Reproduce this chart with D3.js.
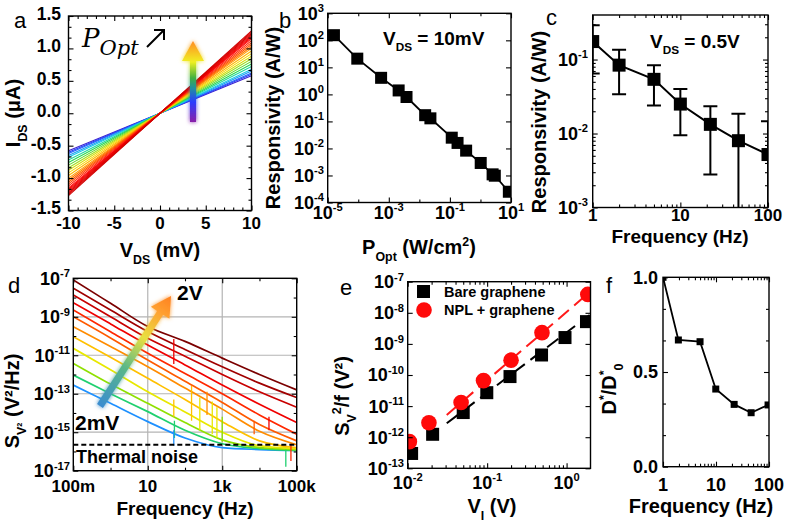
<!DOCTYPE html>
<html><head><meta charset="utf-8">
<script src="https://cdn.jsdelivr.net/npm/d3@7/dist/d3.min.js"></script>
<style>html,body{margin:0;padding:0;background:#fff;}svg{display:block;}</style>
</head><body>
<svg id="fig" width="787" height="526" xmlns="http://www.w3.org/2000/svg"></svg>
<script>
// ================= DATA =================
// (a) I-V curves: current at V_DS = +10 mV for each illumination power (lines through origin)
const aVds = [-10, 10];
const aIdsAt10mV = [0.58,0.60,0.62,0.65,0.68,0.72,0.76,0.80,0.84,0.88,0.92,0.96,1.00,1.03,1.06,1.09,1.12,1.15,1.17,1.19,1.21,1.23,1.25,1.27];
const aColors = ["#3a1fd0","#2c3cf0","#2060ff","#1a9af5","#18c8e8","#20d8a0","#28d850","#5ad828","#a0e020","#d8e010","#f8d800","#ffb800","#ff9a00","#ff7a00","#ff5a00","#ff3c00","#ff2000","#ff1010","#f80000","#f00000","#e80000","#e00000","#d80000","#d00000"];
const aXTicks = [-10,-5,0,5,10];
const aXLabels = ["-10","-5","0","5","10"];
const aYTicks = [-1.5,-1,-0.5,0,0.5,1,1.5];
const aYLabels = ["-1.5","-1.0","-0.5","0.0","0.5","1.0","1.5"];

// (b) responsivity vs optical power
const bPopt = [1.6e-5, 9.3e-5, 5.6e-4, 2.1e-3, 3.8e-3, 1.55e-2, 2.3e-2, 0.115, 0.178, 0.34, 1.02, 2.5, 2.95, 8.5];
const bResp = [155, 21, 4.1, 1.4, 0.8, 0.17, 0.13, 0.025, 0.016, 0.0083, 0.0029, 0.0011, 0.00098, 0.00025];
const bXExp = [-5,-3,-1,1];
const bYExp = [-4,-3,-2,-1,0,1,2,3];

// (c) responsivity vs frequency
const cFreq = [1, 2, 5, 10, 22, 46, 100];
const cResp = [0.175, 0.084, 0.054, 0.025, 0.0133, 0.008, 0.0052];
const cHigh = [0.29, 0.136, 0.084, 0.04, 0.0234, 0.0185, 0.0146];
const cLow  = [0.065, 0.034, 0.024, 0.0095, 0.0028, 0.0004, 0.0004];
const cXTicks = [1,10,100];
const cXLabels = ["1","10","100"];
const cYExp = [-3,-2,-1];

// (d) noise spectra, log10(S) read at these frequencies, low bias (blue) to 2 V (dark red)
const dFreq = [0.1, 1, 10, 100, 1e3, 1e4, 1e5];
const dLog10S = [
  [-7.09, -8.30, -9.51, -10.28, -11.15, -12.00, -12.80],
  [-7.52, -8.65, -9.77, -10.70, -11.60, -12.45, -13.20],
  [-7.87, -9.00, -10.12, -11.05, -12.00, -12.90, -13.70],
  [-8.27, -9.37, -10.47, -11.50, -12.55, -13.55, -14.50],
  [-8.65, -9.78, -10.90, -11.95, -13.00, -14.10, -15.10],
  [-9.00, -10.10, -11.25, -12.35, -13.45, -14.60, -15.45],
  [-9.52, -10.55, -11.60, -12.70, -13.80, -14.95, -15.65],
  [-10.04, -11.10, -12.20, -13.30, -14.45, -15.45, -15.80],
  [-10.64, -11.75, -12.90, -13.95, -15.00, -15.70, -15.85],
  [-11.42, -12.50, -13.50, -14.50, -15.40, -15.80, -15.90],
  [-12.03, -13.00, -13.93, -14.90, -15.60, -15.85, -15.95],
  [-12.55, -13.50, -14.45, -15.30, -15.80, -15.90, -15.95]
];
const dColors = ["#7b0000","#a00000","#c80000","#f00000","#ff2800","#ff5a00","#ff8c00","#ffc000","#e8e800","#90e000","#20d070","#1e90ff"];
// spikes: [frequency, log10 S from, log10 S to, trace index]
const dSpikes = [
  [50, -11.45, -10.15, 3], [50, -14.2, -13.3, 7], [52, -15.3, -14.4, 10], [50, -15.7, -14.9, 11],
  [150, -14.4, -12.6, 7], [250, -14.9, -13.2, 8], [390, -14.1, -12.9, 6], [540, -15.1, -13.4, 8],
  [720, -15.3, -13.7, 8], [1000, -15.5, -14.2, 9], [7200, -15.1, -14.4, 5], [18000, -14.9, -14.2, 3],
  [51000, -15.9, -16.8, 10], [70000, -15.6, -16.5, 4]
];
const dThermal = 2.2e-16;
const dXTicks = [0.1, 10, 1e3, 1e5];
const dXLabels = ["100m","10","1k","100k"];
const dYExp = [-17,-15,-13,-11,-9,-7];

// (e) noise amplitude vs bias
const eVBare = [0.0112, 0.0206, 0.05, 0.099, 0.194, 0.484, 0.955, 1.78];
const eSBare = [3.0e-13, 1.24e-12, 6.2e-12, 2.7e-11, 8.9e-11, 4.4e-10, 1.6e-9, 5.2e-9];
const eVNpl  = [0.0105, 0.0185, 0.047, 0.09, 0.2, 0.49, 1.85];
const eSNpl  = [7.2e-13, 2.9e-12, 1.3e-11, 6.6e-11, 3.0e-10, 2.3e-9, 3.9e-8];
const eFitV = [0.031, 1.95];
const eFitBare = [2.8e-12, 8.5e-9];
const eFitNpl  = [5.2e-12, 4.6e-8];
const eXExp = [-2,-1,0];
const eYExp = [-13,-12,-11,-10,-9,-8,-7];
const eLegend = ["Bare graphene","NPL + graphene"];

// (f) normalised detectivity
const fFreq = [1, 1.95, 5, 9.9, 22, 46, 96];
const fD = [1.0, 0.669, 0.66, 0.41, 0.329, 0.285, 0.326];
const fXTicks = [1,10,100];
const fXLabels = ["1","10","100"];
const fYTicks = [0,0.5,1];
const fYLabels = ["0.0","0.5","1.0"];

// ================= HELPERS =================
const FONT = '"Liberation Sans", Arial, Helvetica, sans-serif';
const svg = d3.select("#fig");
svg.append("rect").attr("width",787).attr("height",526).attr("fill","#fff");
const defs = svg.append("defs");

function rich(g, x, y, parts, size, opt = {}) {
  const t = g.append("text").attr("x", x).attr("y", y)
    .attr("font-family", opt.family || FONT).attr("font-size", size)
    .attr("font-weight", opt.weight || "bold").attr("text-anchor", opt.anchor || "middle")
    .attr("fill", opt.fill || "#000");
  if (opt.rotate) t.attr("transform", `rotate(-90,${x},${y})`);
  let shift = 0;
  parts.forEach(p => {
    const [s, k] = typeof p === "string" ? [p, ""] : p;
    const ts = t.append("tspan").text(s);
    const target = k === "sub" ? size * 0.33 : k === "sup" ? -size * 0.42 : 0;
    if (target - shift !== 0) ts.attr("dy", target - shift);
    shift = target;
    if (k) ts.attr("font-size", size * 0.62);
  });
  return t;
}
const pow = e => [["10"], [String(e), "sup"]];
const decades = (a, b) => d3.range(a, b + 1).map(e => Math.pow(10, e));
function logMinor(lo, hi) {
  const out = [];
  for (let e = Math.floor(Math.log10(lo)) - 1; e <= Math.ceil(Math.log10(hi)); e++)
    for (let m = 2; m <= 9; m++) { const v = m * Math.pow(10, e); if (v > lo * 1.0001 && v < hi * 0.9999) out.push(v); }
  return out;
}

function panel(id, x, y) {
  const g = svg.append("g");
  const [X0, X1] = x.range(), [Y1, Y0] = y.range();
  defs.append("clipPath").attr("id", "clip-" + id).append("rect")
    .attr("x", X0).attr("y", Y0).attr("width", X1 - X0).attr("height", Y1 - Y0);
  const plot = g.append("g").attr("clip-path", `url(#clip-${id})`);
  return {g, plot, X0, X1, Y0, Y1};
}

function ticks(P, x, y, s) {
  const g = P.g;
  const mk = (gen, scale, vals, len, tr) => {
    if (!vals || !vals.length) return;
    g.append("g").attr("transform", tr)
      .call(gen(scale).tickValues(vals).tickSizeInner(-len).tickSizeOuter(0).tickFormat(""))
      .call(sel => { sel.select(".domain").remove(); sel.selectAll("text").remove();
        sel.selectAll("line").attr("stroke", "#000").attr("stroke-width", 1.1); });
  };
  mk(d3.axisBottom, x, s.xMaj, 5, `translate(0,${P.Y1})`);
  mk(d3.axisBottom, x, s.xMin, 3, `translate(0,${P.Y1})`);
  mk(d3.axisTop, x, s.xMaj, 5, `translate(0,${P.Y0})`);
  mk(d3.axisTop, x, s.xMin, 3, `translate(0,${P.Y0})`);
  mk(d3.axisLeft, y, s.yMaj, 5, `translate(${P.X0},0)`);
  mk(d3.axisLeft, y, s.yMin, 3, `translate(${P.X0},0)`);
  mk(d3.axisRight, y, s.yMaj, 5, `translate(${P.X1},0)`);
  mk(d3.axisRight, y, s.yMin, 3, `translate(${P.X1},0)`);
  g.append("rect").attr("x", P.X0).attr("y", P.Y0).attr("width", P.X1 - P.X0).attr("height", P.Y1 - P.Y0)
    .attr("fill", "none").attr("stroke", "#000").attr("stroke-width", 1.4);
}
function xLabels(P, x, vals, labels, base, size = 18) {
  vals.forEach((v, i) => rich(P.g, x(v), base, typeof labels[i] === "string" ? [labels[i]] : labels[i], size));
}
function yLabels(P, y, vals, labels, right, size = 18, k = 0.36) {
  vals.forEach((v, i) => rich(P.g, right, y(v) + size * k, typeof labels[i] === "string" ? [labels[i]] : labels[i], size, {anchor: "end"}));
}
function gradient(id, x1, y1, x2, y2, stops) {
  const lg = defs.append("linearGradient").attr("id", id).attr("gradientUnits", "userSpaceOnUse")
    .attr("x1", x1).attr("y1", y1).attr("x2", x2).attr("y2", y2);
  stops.forEach(([o, c]) => lg.append("stop").attr("offset", o).attr("stop-color", c));
}
function arrow(g, x1, y1, x2, y2, sw, hw, hl, fill) {
  const L = Math.hypot(x2 - x1, y2 - y1), ux = (x2 - x1) / L, uy = (y2 - y1) / L, nx = -uy, ny = ux;
  const bx = x2 - ux * hl, by = y2 - uy * hl;
  const pts = [[x1 + nx * sw / 2, y1 + ny * sw / 2], [bx + nx * sw / 2, by + ny * sw / 2], [bx + nx * hw / 2, by + ny * hw / 2],
    [x2, y2], [bx - nx * hw / 2, by - ny * hw / 2], [bx - nx * sw / 2, by - ny * sw / 2], [x1 - nx * sw / 2, y1 - ny * sw / 2]];
  g.append("polygon").attr("points", pts.map(p => p.join(",")).join(" ")).attr("fill", fill);
}
const glow = defs.append("filter").attr("id", "glow").attr("x", "-50%").attr("y", "-50%").attr("width", "200%").attr("height", "200%");
glow.append("feGaussianBlur").attr("stdDeviation", 2.2).attr("result", "b");
const fm = glow.append("feMerge"); fm.append("feMergeNode").attr("in", "b"); fm.append("feMergeNode").attr("in", "SourceGraphic");

// ================= PANEL A =================
{
  const x = d3.scaleLinear([-10, 10], [68.5, 251.5]);
  const y = d3.scaleLinear([-1.5, 1.5], [210.5, 16]);
  const P = panel("a", x, y);
  aIdsAt10mV.forEach((v, i) => {
    const pts = aVds.map(V => [V, v * V / 10]);
    P.plot.append("path").attr("d", d3.line().x(d => x(d[0])).y(d => y(d[1]))(pts))
      .attr("stroke", aColors[i]).attr("stroke-width", 1.1).attr("fill", "none");
  });
  ticks(P, x, y, {xMaj: aXTicks, xMin: d3.range(-9, 10).filter(v => v % 5 !== 0),
    yMaj: aYTicks, yMin: d3.range(-1.5, 1.51, 0.5 / 3).filter(v => Math.abs(v * 2 - Math.round(v * 2)) > 0.01)});
  xLabels(P, x, aXTicks, aXLabels, 229, 17);
  yLabels(P, y, aYTicks, aYLabels, 61, 17.5, 0.22);
  rich(P.g, 160, 257, ["V", ["DS", "sub"], " (mV)"], 20);
  rich(P.g, 20, 113, ["I", ["DS", "sub"], " (μA)"], 20, {rotate: true});
  rich(P.g, 14, 28, ["a"], 22, {weight: "normal", anchor: "start"});
  // P_Opt annotation
  const t = P.g.append("text").attr("x", 82).attr("y", 47).attr("font-family", '"DejaVu Serif", serif')
    .attr("font-style", "italic").attr("font-size", 26);
  t.append("tspan").text("P");
  t.append("tspan").attr("dy", 8).attr("font-size", 21).text("Opt");
  P.g.append("path").attr("d", "M147,47 L164,30 M154,30 L164,30 L164,40").attr("stroke", "#000")
    .attr("stroke-width", 2).attr("fill", "none");
  gradient("gradA", 0, 122, 0, 42, [[0, "#8a1fa8"], [0.25, "#2a3cff"], [0.42, "#2090a0"], [0.55, "#40b040"], [0.75, "#f0f020"], [1, "#ff9020"]]);
  const ga = P.g.append("g").attr("filter", "url(#glow)");
  arrow(ga, 193, 122, 193, 41, 6, 22, 20, "url(#gradA)");
}

// ================= PANEL B =================
{
  const x = d3.scaleLog([1e-5, 10], [327.7, 511]);
  const y = d3.scaleLog([1e-4, 1e3], [202.5, 13.3]);
  const P = panel("b", x, y);
  const pts = bPopt.map((p, i) => [p, bResp[i]]);
  P.plot.append("path").attr("d", d3.line().x(d => x(d[0])).y(d => y(d[1]))(pts))
    .attr("stroke", "#000").attr("stroke-width", 1.8).attr("fill", "none");
  P.plot.selectAll("rect.m").data(pts).join("rect").attr("x", d => x(d[0]) - 6).attr("y", d => y(d[1]) - 6)
    .attr("width", 12).attr("height", 12).attr("fill", "#000");
  ticks(P, x, y, {xMaj: decades(-5, 1).filter((_, i) => i % 2 === 0), xMin: decades(-4, 0).filter((_, i) => i % 2 === 0),
    yMaj: decades(-4, 3), yMin: []});
  xLabels(P, x, bXExp.map(e => Math.pow(10, e)), bXExp.map(pow), 219);
  yLabels(P, y, bYExp.map(e => Math.pow(10, e)), bYExp.map(pow), 324);
  rich(P.g, 419, 254, ["P", ["Opt", "sub"], " (W/cm", ["2", "sup"], ")"], 20);
  rich(P.g, 280, 118, ["Responsivity (A/W)"], 20, {rotate: true});
  rich(P.g, 279, 28, ["b"], 22, {weight: "normal", anchor: "start"});
  rich(P.g, 383, 45, ["V", ["DS", "sub"], " = 10mV"], 19, {anchor: "start"});
}

// ================= PANEL C =================
{
  const x = d3.scaleLog([1, 100], [592.7, 768]);
  const y = d3.scaleLog([1e-3, 0.4], [207.5, 15]);
  const P = panel("c", x, y);
  const pts = cFreq.map((f, i) => [f, cResp[i], cLow[i], cHigh[i]]);
  P.plot.append("path").attr("d", d3.line().x(d => x(d[0])).y(d => y(d[1]))(pts))
    .attr("stroke", "#000").attr("stroke-width", 2).attr("fill", "none");
  pts.forEach(d => {
    const cx = x(d[0]);
    P.plot.append("line").attr("x1", cx).attr("x2", cx).attr("y1", y(d[2])).attr("y2", y(d[3])).attr("stroke", "#000").attr("stroke-width", 2);
    [d[2], d[3]].forEach(v => P.plot.append("line").attr("x1", cx - 7).attr("x2", cx + 7).attr("y1", y(v)).attr("y2", y(v)).attr("stroke", "#000").attr("stroke-width", 2));
    P.plot.append("rect").attr("x", cx - 6.5).attr("y", y(d[1]) - 6.5).attr("width", 13).attr("height", 13).attr("fill", "#000");
  });
  ticks(P, x, y, {xMaj: cXTicks, xMin: logMinor(1, 100), yMaj: decades(-3, -1), yMin: logMinor(1e-3, 0.4)});
  xLabels(P, x, cXTicks, cXLabels, 221, 17);
  yLabels(P, y, cYExp.map(e => Math.pow(10, e)), cYExp.map(pow), 588);
  rich(P.g, 680, 243, ["Frequency (Hz)"], 19);
  rich(P.g, 546, 122, ["Responsivity (A/W)"], 20, {rotate: true});
  rich(P.g, 546, 25, ["c"], 22, {weight: "normal", anchor: "start"});
  rich(P.g, 650, 48, ["V", ["DS", "sub"], " = 0.5V"], 19, {anchor: "start"});
}

// ================= PANEL D =================
{
  const x = d3.scaleLog([0.1, 1e5], [73.3, 296.7]);
  const y = d3.scaleLog([1e-17, 1e-7], [470.7, 278.3]);
  const P = panel("d", x, y);
  // grid
  [10, 1e3].forEach(v => P.plot.append("line").attr("x1", x(v)).attr("x2", x(v)).attr("y1", P.Y0).attr("y2", P.Y1).attr("stroke", "#b4b4b4").attr("stroke-width", 1.2));
  [1e-15, 1e-13, 1e-11, 1e-9].forEach(v => P.plot.append("line").attr("x1", P.X0).attr("x2", P.X1).attr("y1", y(v)).attr("y2", y(v)).attr("stroke", "#b4b4b4").attr("stroke-width", 1.2));
  const line = d3.line().x(d => x(d[0])).y(d => y(d[1])).curve(d3.curveMonotoneX);
  for (let i = dLog10S.length - 1; i >= 0; i--) {
    const pts = dFreq.map((f, j) => [f, Math.pow(10, dLog10S[i][j])]);
    P.plot.append("path").attr("d", line(pts)).attr("stroke", dColors[i]).attr("stroke-width", 1.7).attr("fill", "none");
  }
  dSpikes.forEach(s => P.plot.append("line").attr("x1", x(s[0])).attr("x2", x(s[0]))
    .attr("y1", y(Math.pow(10, s[1]))).attr("y2", y(Math.pow(10, s[2]))).attr("stroke", dColors[s[3]]).attr("stroke-width", 1.3));
  P.plot.append("line").attr("x1", P.X0).attr("x2", P.X1).attr("y1", y(dThermal)).attr("y2", y(dThermal))
    .attr("stroke", "#000").attr("stroke-width", 2).attr("stroke-dasharray", "5,3");
  ticks(P, x, y, {xMaj: dXTicks, xMin: [1, 100, 1e4], yMaj: decades(-17, -7).filter((_, i) => i % 2 === 0),
    yMin: decades(-16, -8).filter((_, i) => i % 2 === 0)});
  xLabels(P, x, dXTicks, dXLabels, 492, 17);
  yLabels(P, y, dYExp.map(e => Math.pow(10, e)), dYExp.map(pow), 70);
  rich(P.g, 185, 515, ["Frequency (Hz)"], 19);
  rich(P.g, 19, 401, ["S", ["V²", "sub"], " (V²/Hz)"], 20, {rotate: true});
  rich(P.g, 8, 293, ["d"], 22, {weight: "normal", anchor: "start"});
  gradient("gradD", 100, 406, 171, 296, [[0, "#3a8cd0"], [0.35, "#5ab888"], [0.62, "#e8e040"], [0.85, "#ffa030"], [1, "#ff8020"]]);
  const gd = P.g.append("g").attr("filter", "url(#glow)");
  arrow(gd, 100, 406, 171, 296, 7, 22, 20, "url(#gradD)");
  rich(P.g, 177, 300, ["2V"], 21, {anchor: "start"});
  rich(P.g, 75, 430, ["2mV"], 21, {anchor: "start"});
  rich(P.g, 76, 463, ["Thermal noise"], 18, {anchor: "start"});
}

// ================= PANEL E =================
{
  const x = d3.scaleLog([0.01, 2], [407.7, 590.5]);
  const y = d3.scaleLog([1e-13, 1e-7], [468.3, 281.7]);
  const P = panel("e", x, y);
  const fl = d3.line().x(d => x(d[0])).y(d => y(d[1]));
  P.plot.append("path").attr("d", fl(eFitV.map((v, i) => [v, eFitBare[i]]))).attr("stroke", "#000").attr("stroke-width", 2).attr("stroke-dasharray", "14,7").attr("fill", "none");
  P.plot.append("path").attr("d", fl(eFitV.map((v, i) => [v, eFitNpl[i]]))).attr("stroke", "#ff1a1a").attr("stroke-width", 2).attr("stroke-dasharray", "14,7").attr("fill", "none");
  eVBare.forEach((v, i) => P.plot.append("rect").attr("x", x(v) - 6.5).attr("y", y(eSBare[i]) - 6.5).attr("width", 13).attr("height", 13).attr("fill", "#000"));
  eVNpl.forEach((v, i) => P.plot.append("circle").attr("cx", x(v)).attr("cy", y(eSNpl[i])).attr("r", 7.8).attr("fill", "#ff0a0a"));
  ticks(P, x, y, {xMaj: decades(-2, 0), xMin: logMinor(0.01, 2), yMaj: decades(-13, -7), yMin: []});
  xLabels(P, x, eXExp.map(e => Math.pow(10, e)), eXExp.map(pow), 489);
  yLabels(P, y, eYExp.map(e => Math.pow(10, e)), eYExp.map(pow), 404);
  rich(P.g, 492, 513, ["V", ["I", "sub"], " (V)"], 20);
  rich(P.g, 349, 396, ["S", ["V", "sub"], ["2", "sup"], "/f (V²)"], 20, {rotate: true});
  rich(P.g, 340, 295, ["e"], 22, {weight: "normal", anchor: "start"});
  // legend
  P.g.append("rect").attr("x", 417).attr("y", 285).attr("width", 13).attr("height", 13).attr("fill", "#000");
  P.g.append("circle").attr("cx", 424).attr("cy", 310).attr("r", 7.8).attr("fill", "#ff0a0a");
  rich(P.g, 444, 297, [eLegend[0]], 14.5, {anchor: "start"});
  rich(P.g, 444, 315, [eLegend[1]], 14.5, {anchor: "start"});
}

// ================= PANEL F =================
{
  const x = d3.scaleLog([1, 100], [663, 769]);
  const y = d3.scaleLinear([0, 1], [466.7, 277.3]);
  const P = panel("f", x, y);
  const pts = fFreq.map((f, i) => [f, fD[i]]);
  P.plot.append("path").attr("d", d3.line().x(d => x(d[0])).y(d => y(d[1]))(pts)).attr("stroke", "#000").attr("stroke-width", 1.8).attr("fill", "none");
  pts.forEach(d => P.plot.append("rect").attr("x", x(d[0]) - 3.5).attr("y", y(d[1]) - 3.5).attr("width", 7).attr("height", 7).attr("fill", "#000"));
  ticks(P, x, y, {xMaj: fXTicks, xMin: logMinor(1, 100), yMaj: fYTicks,
    yMin: d3.range(0, 1.001, 1 / 6).filter(v => Math.abs(v * 2 - Math.round(v * 2)) > 0.01)});
  xLabels(P, x, fXTicks, fXLabels, 491);
  yLabels(P, y, fYTicks, fYLabels, 658);
  rich(P.g, 701, 513, ["Frequency (Hz)"], 20);
  rich(P.g, 616, 389, ["D", ["*", "sup"], "/D", ["*", "sup"], ["0", "sub"]], 20, {rotate: true});
  rich(P.g, 606, 293, ["f"], 22, {weight: "normal", anchor: "start"});
}
</script>
</body></html>
